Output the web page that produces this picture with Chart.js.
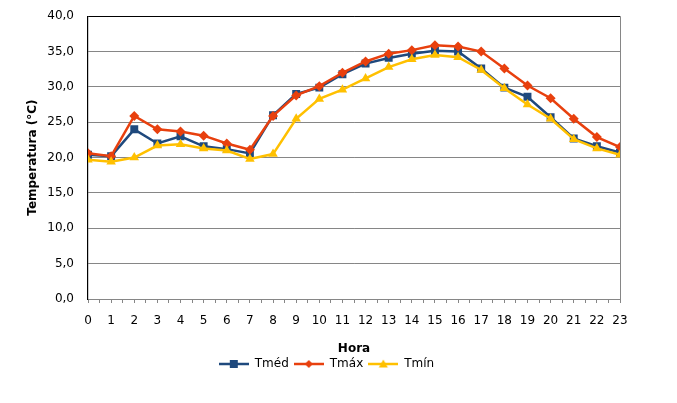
<!DOCTYPE html>
<html lang="pt">
<head>
    <meta charset="UTF-8">
    <title>Temperatura por hora</title>
    <script src="https://cdn.jsdelivr.net/npm/chart.js@4/dist/chart.umd.min.js"></script>
    <style>
        * { margin: 0; padding: 0; box-sizing: border-box; }
        body { background: #fff; width: 677px; height: 403px; overflow: hidden; }
        #wrap { position: relative; width: 677px; height: 403px; }
    </style>
</head>
<body>
    <div id="wrap"><canvas id="chart"></canvas></div>

    <script>
        // Data
        const hours = [0, 1, 2, 3, 4, 5, 6, 7, 8, 9, 10, 11, 12, 13, 14, 15, 16, 17, 18, 19, 20, 21, 22, 23];
        const tMed = [20.4, 20.2, 24.0, 22.0, 23.0, 21.6, 21.2, 20.6, 26.0, 29.0, 29.9, 31.8, 33.3, 34.1, 34.7, 35.1, 35.0, 32.6, 29.9, 28.6, 25.7, 22.7, 21.6, 20.7];
        const tMax = [20.6, 20.2, 25.9, 24.0, 23.7, 23.1, 22.0, 21.1, 25.9, 28.8, 30.1, 32.0, 33.6, 34.7, 35.2, 35.9, 35.7, 35.0, 32.6, 30.2, 28.4, 25.5, 22.9, 21.5];
        const tMin = [19.7, 19.4, 20.0, 21.7, 21.9, 21.3, 21.0, 19.8, 20.5, 25.5, 28.3, 29.6, 31.2, 32.8, 33.9, 34.5, 34.2, 32.4, 29.8, 27.5, 25.5, 22.6, 21.3, 20.4];
        const yTicks = [0, 5, 10, 15, 20, 25, 30, 35, 40];

        const BLUE = '#1F497D';
        const RED = '#E8400E';
        const GOLD = '#FFC000';
        const FONT = "'DejaVu Sans', Verdana, sans-serif";

        Chart.defaults.font.family = FONT;
        Chart.defaults.font.size = 12;
        Chart.defaults.color = '#000';

        const toPoints = arr => arr.map((v, i) => ({ x: hours[i], y: v }));

        // small legend swatch: line with a marker on it
        function swatch(color, style) {
            const c = document.createElement('canvas');
            c.width = 30; c.height = 12;
            const g = c.getContext('2d');
            g.strokeStyle = color; g.fillStyle = color; g.lineWidth = 2.5;
            g.beginPath(); g.moveTo(0, 6); g.lineTo(30, 6); g.stroke();
            g.beginPath();
            if (style === 'rect') {
                g.rect(11, 2, 8, 8);
            } else if (style === 'rectRot') {
                g.moveTo(15, 2); g.lineTo(19, 6); g.lineTo(15, 10); g.lineTo(11, 6); g.closePath();
            } else {
                g.moveTo(15, 1.5); g.lineTo(19.5, 9.5); g.lineTo(10.5, 9.5); g.closePath();
            }
            g.fill();
            return c;
        }

        function series(label, data, color, style, radius, order) {
            return {
                label: label,
                data: toPoints(data),
                borderColor: color,
                backgroundColor: color,
                borderWidth: 2.5,
                pointStyle: style,
                pointRadius: radius,
                pointHoverRadius: radius,
                pointBorderWidth: 0,
                tension: 0,
                order: order,
                legendSwatch: swatch(color, style)
            };
        }

        // grey right edge of the plot area
        const framePlugin = {
            id: 'frame',
            afterDatasetsDraw(chart) {
                const a = chart.chartArea, ctx = chart.ctx;
                ctx.save();
                ctx.lineWidth = 1;
                ctx.strokeStyle = '#868686';
                ctx.beginPath(); ctx.moveTo(a.right + 0.5, a.top); ctx.lineTo(a.right + 0.5, a.bottom + 4); ctx.stroke();
                ctx.restore();
            }
        };

        new Chart(document.getElementById('chart'), {
            type: 'line',
            data: {
                datasets: [
                    series('Tméd', tMed, BLUE, 'rect', 5.6, 3),
                    series('Tmáx', tMax, RED, 'rectRot', 5, 2),
                    series('Tmín', tMin, GOLD, 'triangle', 5.5, 1)
                ]
            },
            options: {
                responsive: true,
                maintainAspectRatio: false,
                animation: false,
                layout: { padding: { left: 0, right: 24, top: 8, bottom: 23 } },
                plugins: {
                    tooltip: { enabled: false },
                    legend: {
                        position: 'bottom',
                        labels: {
                            usePointStyle: true,
                            pointStyleWidth: 30,
                            padding: 5,
                            sort: (a, b) => a.datasetIndex - b.datasetIndex,
                            generateLabels(chart) {
                                return chart.data.datasets.map((ds, i) => ({
                                    text: ds.label,
                                    fillStyle: ds.borderColor,
                                    strokeStyle: ds.borderColor,
                                    pointStyle: ds.legendSwatch,
                                    lineWidth: 0,
                                    hidden: false,
                                    datasetIndex: i
                                }));
                            }
                        }
                    }
                },
                scales: {
                    x: {
                        type: 'linear',
                        min: 0,
                        max: 23,
                        afterBuildTicks(scale) {
                            const t = [];
                            hours.forEach((h, i) => {
                                t.push({ value: h });
                                if (i < hours.length - 1) t.push({ value: h + 0.5 });
                            });
                            scale.ticks = t;
                        },
                        afterFit(scale) { scale.height = 54; },
                        ticks: {
                            autoSkip: false,
                            maxRotation: 0,
                            padding: 11,
                            callback: v => (Number.isInteger(v) ? String(v) : '')
                        },
                        grid: {
                            drawOnChartArea: false,
                            tickLength: 4,
                            color: '#868686'
                        },
                        border: { color: '#868686' },
                        title: {
                            display: true,
                            text: 'Hora',
                            font: { weight: 'bold', size: 12 },
                            padding: { top: 4, bottom: -3 }
                        }
                    },
                    y: {
                        min: 0,
                        max: 40,
                        afterBuildTicks(scale) {
                            scale.ticks = yTicks.map(v => ({ value: v }));
                        },
                        afterFit(scale) { scale.width = 88; },
                        ticks: {
                            padding: 9,
                            callback: v => v.toFixed(1).replace('.', ',')
                        },
                        grid: {
                            tickLength: 5,
                            tickColor: 'rgba(0,0,0,0)',
                            color: ctx => (ctx.tick && ctx.tick.value === 40 ? '#000' : '#868686')
                        },
                        border: { color: '#000', width: 1.2 },
                        title: {
                            display: true,
                            text: 'Temperatura (°C)',
                            font: { weight: 'bold', size: 12 },
                            padding: { top: 26, bottom: 4 }
                        }
                    },
                    // empty right axis that only reserves space so the legend centres like the reference
                    yRight: {
                        position: 'right',
                        display: true,
                        min: 0,
                        max: 40,
                        afterFit(scale) { scale.width = 33; },
                        ticks: { display: false },
                        grid: { display: false, drawOnChartArea: false },
                        border: { display: false }
                    }
                }
            },
            plugins: [framePlugin]
        });
    </script>
</body>
</html>
